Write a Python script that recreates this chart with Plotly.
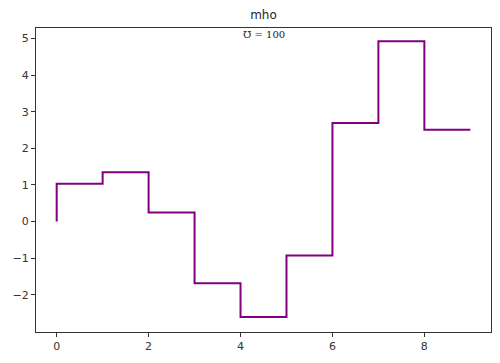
import plotly.graph_objects as go

x_vals = [0, 1, 2, 3, 4, 5, 6, 7, 8, 9]
y_vals = [0.0, 1.03, 1.35, 0.25, -1.69, -2.61, -0.93, 2.69, 4.93, 2.51]
x_ticks = [0, 2, 4, 6, 8]
y_ticks = [-2, -1, 0, 1, 2, 3, 4, 5]
title_text = "mho"
note_text = "℧ = 100"

fig = go.Figure()
fig.add_trace(go.Scatter(x=x_vals, y=y_vals, mode="lines", line_shape="vh",
                         line=dict(color="#800080", width=2), showlegend=False))

axis_common = dict(showgrid=False, zeroline=False, showline=True, mirror=True,
                   linecolor="#333333", linewidth=1, ticks="outside", ticklen=4,
                   tickcolor="#333333", tickfont=dict(family="DejaVu Sans", size=11, color="#333333"))
fig.update_xaxes(range=[-0.45, 9.45], tickvals=x_ticks, **axis_common)
fig.update_yaxes(range=[-3.02, 5.29], tickvals=y_ticks, **axis_common)

fig.update_layout(
    width=500, height=363,
    margin=dict(l=36, r=9, t=28, b=31),
    plot_bgcolor="white", paper_bgcolor="white",
    title=dict(text=title_text, x=0.527, xanchor="center", y=0.96, yanchor="middle",
               font=dict(family="DejaVu Sans", size=12, color="#222222")),
)
fig.add_annotation(text=note_text, xref="paper", yref="paper", x=0.5, y=1.0,
                   yanchor="top", xanchor="center", showarrow=False, yshift=1,
                   font=dict(family="DejaVu Serif", size=10, color="#222222"))

fig.write_html("out.html")
